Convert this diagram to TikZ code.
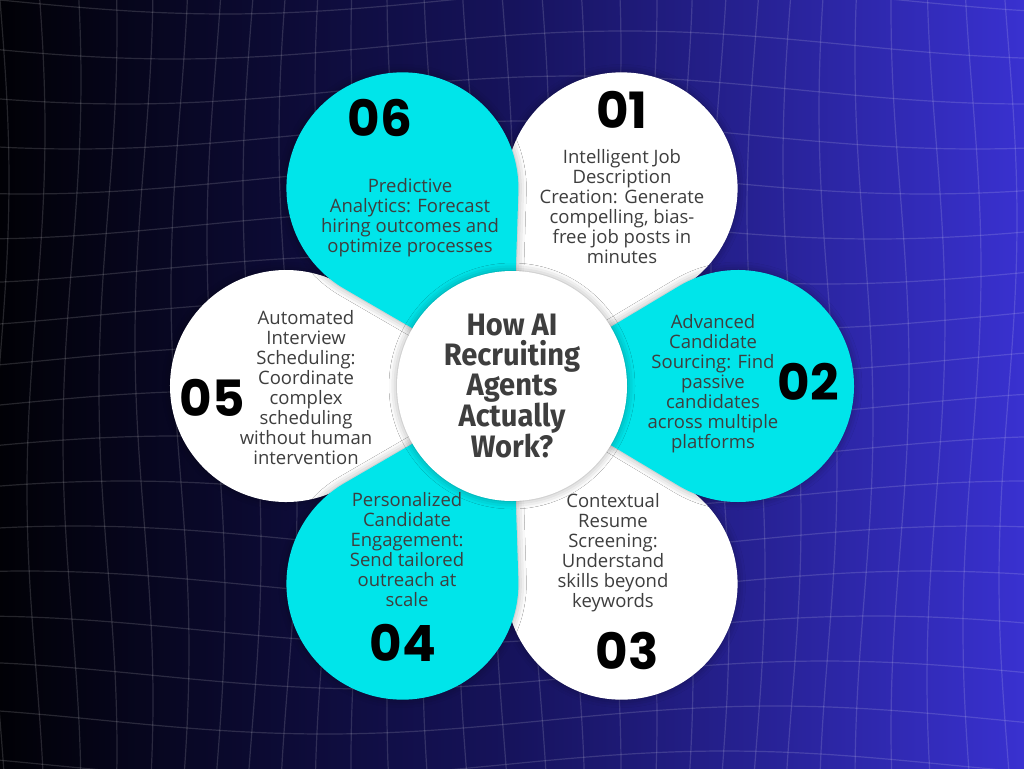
\documentclass[tikz,border=0pt]{standalone}
\usepackage{fontspec}
\setmainfont{Open Sans}
\newfontfamily\numfont{Poppins}
\newfontfamily\titlefont[FakeStretch=0.94]{Fira Sans}
\usetikzlibrary{calc,shadows.blur}
\definecolor{bgleft}{RGB}{1,1,6}
\definecolor{bgmid}{RGB}{22,19,92}
\definecolor{bgright}{RGB}{57,49,208}
\definecolor{aqua}{RGB}{0,229,234}
\definecolor{ink}{RGB}{62,62,62}

% teardrop petal: #1 = direction from hub, #2 = fill, #3 = name
\newcommand{\petal}[3]{%
  \coordinate (#3) at ($(hub)+(#1:226)$);
  \fill[#2, petalshadow] (hub) -- ($(#3)+(#1+239:116)$)
    arc[start angle=#1+239, delta angle=242, radius=116] -- cycle;
}

\begin{document}
\begin{tikzpicture}[x=1pt, y=-1pt,
    gridline/.style={white, opacity=0.14, line width=1.2pt},
    petalshadow/.style={blur shadow={shadow xshift=0pt, shadow yshift=0pt,
        shadow blur radius=8pt, shadow opacity=35}},
    body/.style={align=center, text=ink, inner sep=0pt,
        font=\fontsize{18.5}{20}\selectfont},
    num/.style={text=black, inner sep=0pt,
        font=\numfont\bfseries\fontsize{50}{50}\selectfont},
    title/.style={align=center, text=ink, inner sep=0pt,
        font=\titlefont\bfseries\fontsize{31}{30}\selectfont}
  ]
  \useasboundingbox (0,0) rectangle (1024,768);
  % background
  \shade[left color=bgleft, right color=bgright, middle color=bgmid]
    (0,0) rectangle (1024,768);
  % warped grid
  \begin{scope}
    \clip (0,0) rectangle (1024,768);
    \foreach \i in {-1,...,18}
      \draw[gridline] plot[domain=-20:1044, samples=30, smooth]
        (\x, {45*\i + 14*sin(0.4*\x + 20*\i)});
    \foreach \j in {-1,...,29}
      \draw[gridline] plot[domain=-20:788, samples=25, smooth]
        ({36*\j + 9*sin(0.5*\x + 25*\j)}, \x);
  \end{scope}

  \coordinate (hub) at (512,386);
  % petals, white first
  \petal{-61}{white}{p01}
  \petal{61}{white}{p03}
  \petal{180}{white}{p05}
  \petal{0}{aqua}{p02}
  \petal{119}{aqua}{p04}
  \petal{-119}{aqua}{p06}

  % centre
  \node[circle, fill=white, minimum size=230pt, petalshadow] (core) at (hub) {};
  \node[title] (head) at (core) {How AI\\Recruiting\\Agents\\Actually\\Work?};

  % 01
  \node[num] (n01) at (622,110) {01};
  \node[body] (t01) at (622,207) {Intelligent Job\\Description\\Creation: Generate\\compelling, bias-\\free job posts in\\minutes};
  % 02
  \node[num] (n02) at (808,382) {02};
  \node[body] (t02) at (713,384) {Advanced\\Candidate\\Sourcing: Find\\passive\\candidates\\across multiple\\platforms};
  % 03
  \node[num] (n03) at (627,651) {03};
  \node[body] (t03) at (613,553) {Contextual\\Resume\\Screening:\\Understand\\skills beyond\\keywords};
  % 04
  \node[num] (n04) at (403,643) {04};
  \node[body] (t04) at (407,550) {Personalized\\Candidate\\Engagement:\\Send tailored\\outreach at\\scale};
  % 05
  \node[num] (n05) at (212,398) {05};
  \node[body] (t05) at (306,388) {Automated\\Interview\\Scheduling:\\Coordinate\\complex\\scheduling\\without human\\intervention};
  % 06
  \node[num] (n06) at (380,118) {06};
  \node[body] (t06) at (410,218) {Predictive\\Analytics: Forecast\\hiring outcomes and\\optimize processes};
\end{tikzpicture}
\end{document}
